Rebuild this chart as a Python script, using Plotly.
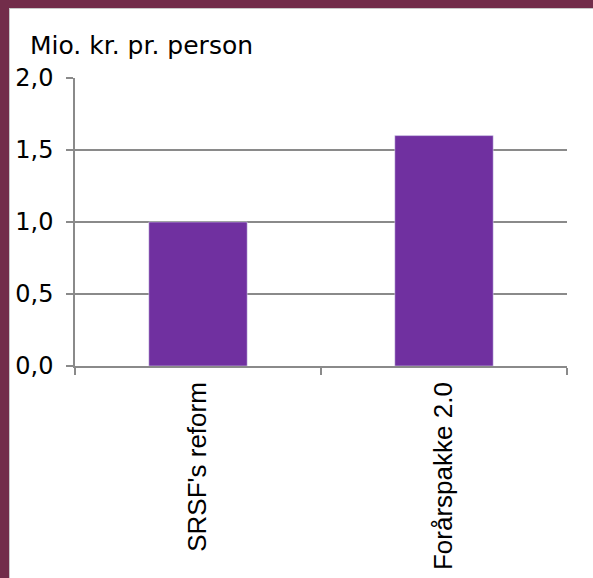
import plotly.graph_objects as go

categories = ["SRSF's reform", "Forårspakke 2.0"]
values = [1.0, 1.6]
y_ticks = [0.0, 0.5, 1.0, 1.5, 2.0]
y_title = "Mio. kr. pr. person"

W, H = 593, 578
L, R, T, B = 75, 26, 78, 212
pw, ph = W - L - R, H - T - B

def px(x):
    return (x - L) / pw

def py(y):
    return (H - B - y) / ph

fig = go.Figure(go.Bar(x=categories, y=values, marker_color="#7030A0", width=0.4))

grid = "#8a8a8a"
fig.update_layout(
    width=W, height=H,
    margin=dict(l=L, r=R, t=T, b=B, autoexpand=False),
    paper_bgcolor="white", plot_bgcolor="white",
    separators=",.",
    showlegend=False,
    font=dict(family="DejaVu Sans", size=22, color="black"),
    bargap=0.6,
)
fig.update_yaxes(
    range=[0, 2], tickvals=y_ticks, tickformat=".1f",
    showgrid=True, gridcolor=grid, gridwidth=1.5,
    showline=True, linecolor=grid, linewidth=1.5,
    ticks="outside", ticklen=7, tickcolor=grid, tickwidth=1.5,
    zeroline=False, fixedrange=True, ticklabelstandoff=8,
    tickfont=dict(family="DejaVu Sans", size=24),
)
fig.update_xaxes(
    showline=True, linecolor=grid, linewidth=1.5,
    ticks="outside", ticklen=7, tickcolor=grid, tickwidth=1.5,
    tickson="boundaries", tickangle=-90, showgrid=False, ticklabelstandoff=4,
    fixedrange=True,
    tickfont=dict(family="Liberation Sans", size=26),
)

fig.add_annotation(text=y_title, xref="paper", yref="paper",
                   x=px(28), y=py(45), xanchor="left", yanchor="middle",
                   showarrow=False, font=dict(family="DejaVu Sans", size=25))

maroon = "#722d4a"
fig.add_shape(type="rect", xref="paper", yref="paper", x0=px(0), x1=px(9), y0=py(0), y1=py(H),
              fillcolor=maroon, line_width=0, layer="above")
fig.add_shape(type="rect", xref="paper", yref="paper", x0=px(0), x1=px(W), y0=py(0), y1=py(8),
              fillcolor=maroon, line_width=0, layer="above")
fig.add_shape(type="line", xref="paper", yref="paper", x0=px(9.5), x1=px(9.5), y0=py(8), y1=py(H),
              line=dict(color="#c8c8c8", width=1), layer="above")
fig.add_shape(type="line", xref="paper", yref="paper", x0=px(9), x1=px(W), y0=py(8.5), y1=py(8.5),
              line=dict(color="#c8c8c8", width=1), layer="above")

fig.write_html("out.html", config={"displayModeBar": False},
               post_script="document.body.style.margin='0';document.body.style.overflow='hidden';")
